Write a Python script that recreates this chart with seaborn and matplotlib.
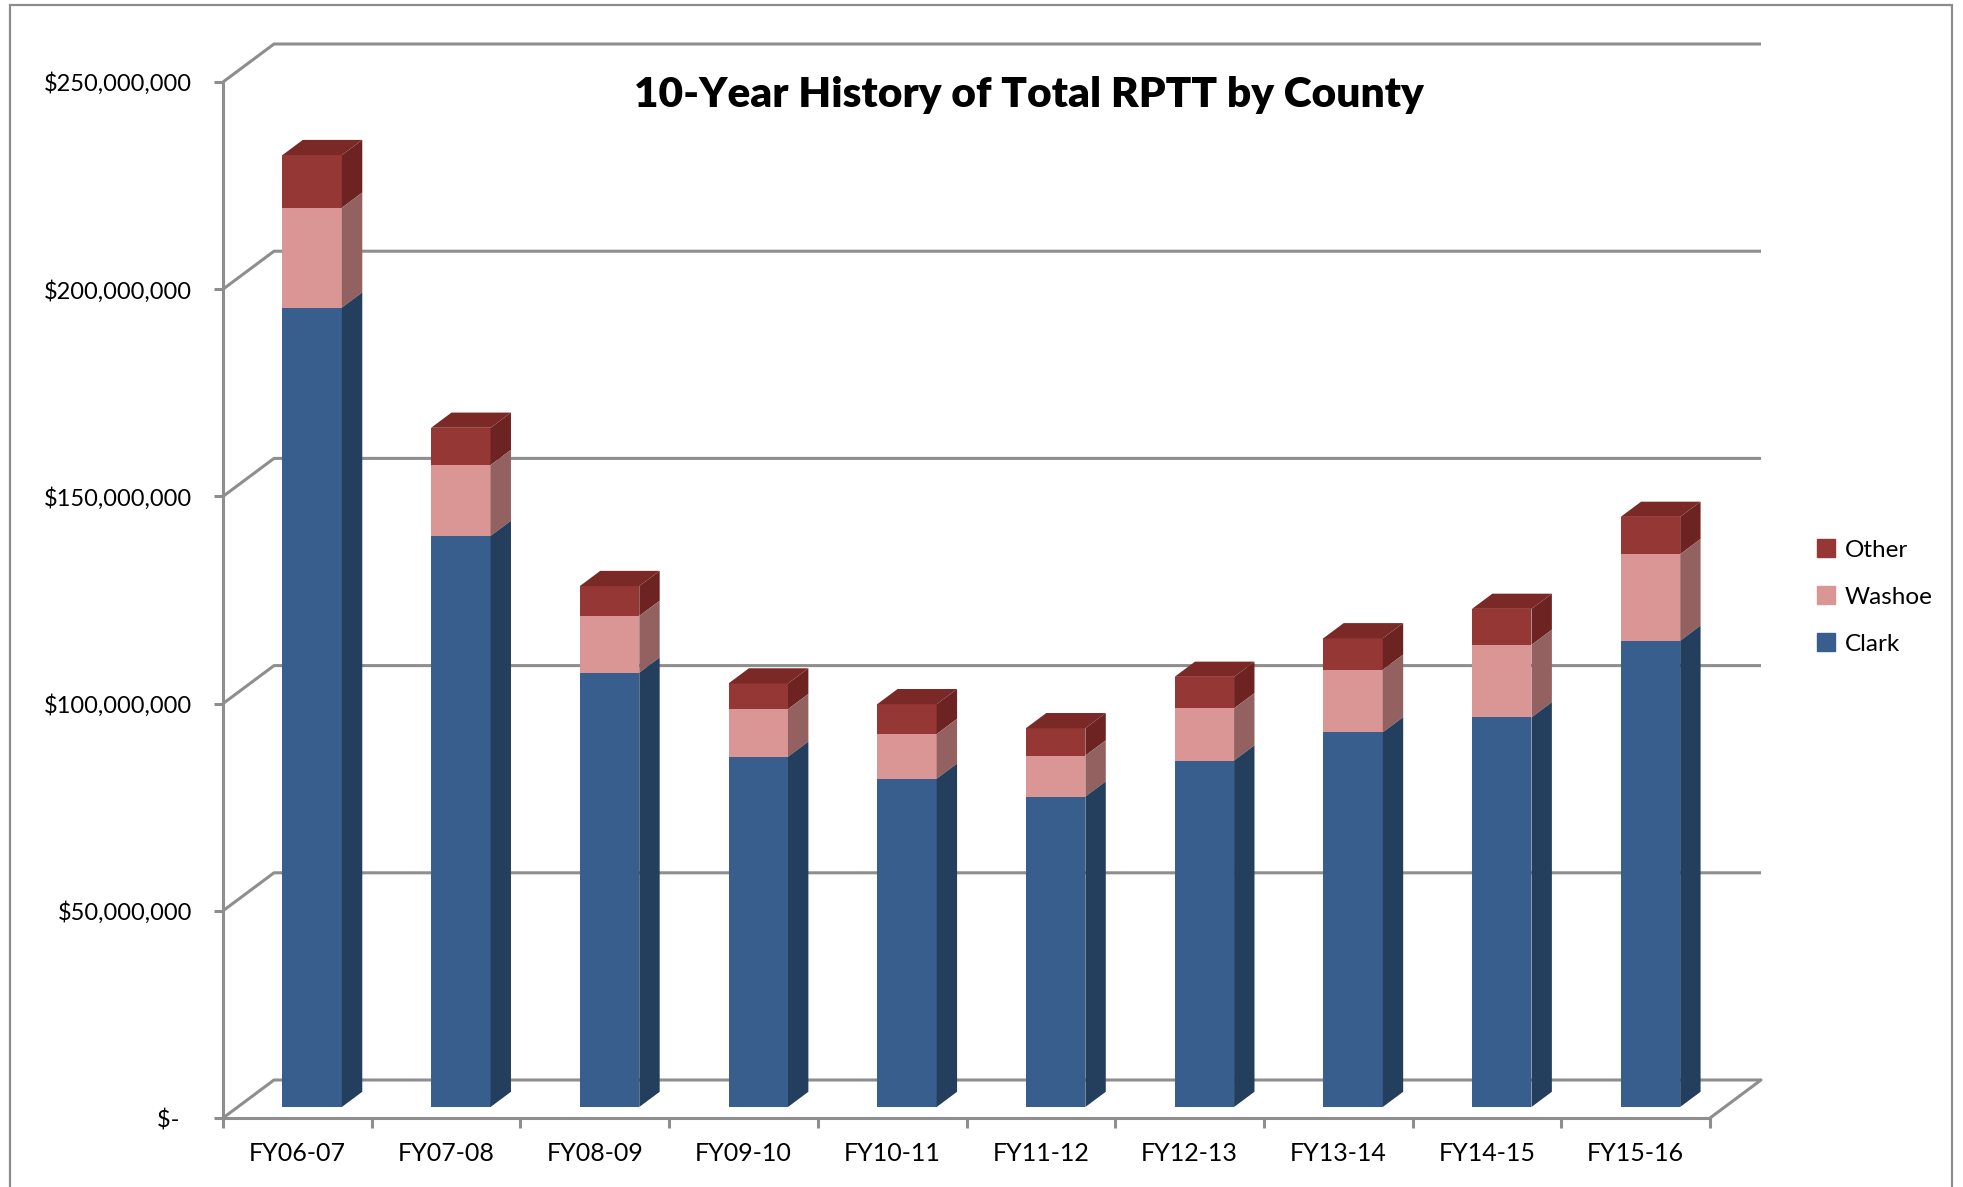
"""
plot.py
-------
10-year history of total RPTT by county, drawn as a pseudo-3D stacked bar chart.
"""

import numpy as np
import pandas as pd
import matplotlib.pyplot as plt
import seaborn as sns
from matplotlib.patches import Rectangle


# values in millions of dollars
years = ["FY06-07", "FY07-08", "FY08-09", "FY09-10", "FY10-11",
         "FY11-12", "FY12-13", "FY13-14", "FY14-15", "FY15-16"]
clark = [192.9, 137.8, 104.8, 84.5, 79.2, 74.9, 83.6, 90.4, 94.0, 112.5]
washoe = [24.1, 17.1, 13.7, 11.5, 10.8, 9.9, 12.6, 15.1, 17.5, 20.9]
other = [12.7, 9.0, 7.2, 6.2, 7.2, 6.6, 7.6, 7.6, 8.7, 9.0]
counties = ["Other", "Washoe", "Clark"]
y_ticks = [0, 50e6, 100e6, 150e6, 200e6, 250e6]

front_colors = {"Clark": "#385E8E", "Washoe": "#D99694", "Other": "#953735"}
side_colors = {"Clark": "#243E5D", "Washoe": "#936160", "Other": "#6D2321"}
top_color = "#7A2927"
grid_color = "#8E8E8E"

W, H = 1963, 1187
DEPTH_X = 51 / 148.7            # depth vector, category units
DEPTH_Y = 38 / 1036 * 250e6     # depth vector, value units
F0, F1 = 0.29, 0.69             # bar front / back depth fractions
BAR_W = 0.4

clark_v = np.array(clark) * 1e6
washoe_v = np.array(washoe) * 1e6
other_v = np.array(other) * 1e6
bottoms = {"Clark": np.zeros(10), "Washoe": clark_v, "Other": clark_v + washoe_v}
tops = {"Clark": clark_v, "Washoe": clark_v + washoe_v, "Other": clark_v + washoe_v + other_v}

df = pd.concat([
    pd.DataFrame({"year": years, "county": c, "top": tops[c]}) for c in counties
], ignore_index=True)

sns.set_theme(style="white")
plt.rcParams["font.family"] = ["Lato", "DejaVu Sans"]
plt.rcParams["text.color"] = "black"

fig = plt.figure(figsize=(W / 100, H / 100), dpi=100)
ax = fig.add_axes([223 / W, 1 - 1118 / H, 1487 / W, 1036 / H])

sns.barplot(
    data=df, x="year", y="top", hue="county", hue_order=counties,
    palette=front_colors, dodge=False, width=BAR_W, saturation=1,
    errorbar=None, legend=False, linewidth=0, zorder=3, ax=ax,
)
ax.set_xlim(-0.5, 9.5)
ax.set_ylim(0, 250e6)

# push the front faces back into the box
for p in ax.patches:
    p.set_x(p.get_x() + F0 * DEPTH_X)
    p.set_y(p.get_y() + F0 * DEPTH_Y)
    p.set_clip_on(False)

dx = (F1 - F0) * DEPTH_X
dy = (F1 - F0) * DEPTH_Y
for bar in ax.containers[-1]:
    xl = bar.get_x()
    xr = xl + bar.get_width()
    i = int(round(xl + bar.get_width() / 2 - F0 * DEPTH_X))
    for c in counties:
        b = bottoms[c][i] + F0 * DEPTH_Y
        t = tops[c][i] + F0 * DEPTH_Y
        ax.fill([xr, xr + dx, xr + dx, xr], [b, b + dy, t + dy, t],
                color=side_colors[c], lw=0, zorder=3, clip_on=False)
    t = tops["Other"][i] + F0 * DEPTH_Y
    ax.fill([xl, xr, xr + dx, xl + dx], [t, t, t + dy, t + dy],
            color=top_color, lw=0, zorder=3, clip_on=False)

# back wall gridlines and side diagonals
for v in y_ticks:
    ax.plot([-0.5, -0.5 + DEPTH_X, 9.5 + DEPTH_X], [v, v + DEPTH_Y, v + DEPTH_Y],
            color=grid_color, lw=2.2, zorder=1, clip_on=False, solid_capstyle="butt")
ax.plot([9.5, 9.5 + DEPTH_X], [0, DEPTH_Y], color=grid_color, lw=2.2,
        zorder=1, clip_on=False)

for side in ["top", "right"]:
    ax.spines[side].set_visible(False)
for side in ["left", "bottom"]:
    ax.spines[side].set_color(grid_color)
    ax.spines[side].set_linewidth(2.2)

ax.set_yticks(y_ticks)
ax.set_yticklabels([f"${v:,.0f}" if v > 0 else "$-  " for v in y_ticks])
ax.set_xticks(np.arange(-0.5, 10, 1))
ax.set_xticklabels([""] * 11)
ax.set_xticks(range(10), minor=True)
ax.set_xticklabels(years, minor=True)
ax.tick_params(axis="y", left=True, length=6.5, width=2.2, color=grid_color,
               pad=16, labelsize=17, labelcolor="black")
ax.tick_params(axis="x", which="major", bottom=True, length=7, width=2.2,
               color=grid_color)
ax.tick_params(axis="x", which="minor", bottom=True, length=0, pad=17,
               labelsize=18, labelcolor="black")
ax.set_xlabel("")
ax.set_ylabel("")
ax.set_facecolor("none")

fig.text(1029 / W, 1 - 95 / H, "10-Year History of Total RPTT by County",
         ha="center", va="center", fontsize=30.5, fontweight="heavy",
         color="black")

handles = [Rectangle((0, 0), 1, 1, color=front_colors[c]) for c in counties]
fig.legend(handles, counties, loc="center left",
           bbox_to_anchor=(1795 / W, 1 - 597 / H), frameon=False,
           fontsize=17.5, handlelength=0.75, handleheight=0.75,
           handletextpad=0.4, labelspacing=1.05, labelcolor="black")

fig.add_artist(Rectangle((10 / W, -0.01), 1942 / W, 1.01 - 5 / H,
                         transform=fig.transFigure, fill=False,
                         edgecolor="#8C8C8C", lw=1.6))

fig.savefig("out.png", dpi=100)
